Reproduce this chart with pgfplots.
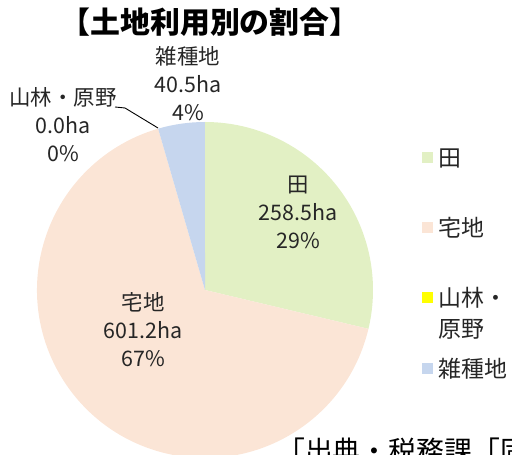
\documentclass[border=0pt]{standalone}
\usepackage{fontspec}
\setmainfont{Noto Sans CJK JP}
\usepackage{pgfplots}
\usepackage{pgfplotstable}
\pgfplotsset{compat=1.18}
\definecolor{cTa}{RGB}{226,240,196}
\definecolor{cTaku}{RGB}{251,229,214}
\definecolor{cSan}{RGB}{255,255,0}
\definecolor{cZatsu}{RGB}{198,214,238}

% land use (ha)
\pgfplotstableread{
name   value
ta     258.5
taku   601.2
sanrin 0.0
zatsu  40.5
}\landuse

\begin{document}
\begin{tikzpicture}
\path[use as bounding box] (0,0) rectangle (512bp,455bp);
\clip (0,0) rectangle (512bp,455bp);
\pgfplotstablegetelem{0}{value}\of\landuse \let\va\pgfplotsretval
\pgfplotstablegetelem{1}{value}\of\landuse \let\vb\pgfplotsretval
\pgfplotstablegetelem{2}{value}\of\landuse \let\vc\pgfplotsretval
\pgfplotstablegetelem{3}{value}\of\landuse \let\vd\pgfplotsretval
\pgfmathsetmacro{\tot}{\va+\vb+\vc+\vd}
\pgfmathsetmacro{\aA}{90-360*(\va/\tot)}
\pgfmathsetmacro{\aB}{\aA-360*(\vb/\tot)}
\pgfmathsetmacro{\aC}{\aB-360*(\vc/\tot)}
\pgfmathsetmacro{\aD}{\aC-360*(\vd/\tot)}
\begin{axis}[
    at={(0,0)}, anchor=south west,
    width=512bp, height=455bp, scale only axis,
    xmin=0, xmax=512, ymin=0, ymax=455,
    hide axis, clip=false,
]
\fill[cTa] (axis cs:205,165) -- ++(90:168bp) arc[start angle=90, end angle=\aA, radius=168bp] -- cycle;
\fill[cTaku] (axis cs:205,165) -- ++(\aA:168bp) arc[start angle=\aA, end angle=\aB, radius=168bp] -- cycle;
\fill[cZatsu] (axis cs:205,165) -- ++(\aC:168bp) arc[start angle=\aC, end angle=\aD, radius=168bp] -- cycle;

\node[font=\fontsize{30}{34}\selectfont\bfseries] at (axis cs:210,433) {【土地利用別の割合】};

\tikzset{lab/.style={align=center, font=\fontsize{21.5}{28}\selectfont, text=black!85}}
\node[lab] at (axis cs:298,243) {田\\258.5ha\\29\%};
\node[lab] at (axis cs:143,125) {宅地\\601.2ha\\67\%};
\node[lab] at (axis cs:188,371) {雑種地\\40.5ha\\4\%};
\node[lab] at (axis cs:63,330) {山林・原野\\0.0ha\\0\%};
\draw[black, line width=0.9pt] (axis cs:115,348) -- (axis cs:125,347) -- (axis cs:158,327);

% legend
\tikzset{lg/.style={anchor=west, inner xsep=0pt, font=\fontsize{23}{28}\selectfont, text=black!85}}
\fill[cTa] (axis cs:422,292) rectangle (axis cs:433,303);
\node[lg] at (axis cs:438,297) {田};
\fill[cTaku] (axis cs:422,222) rectangle (axis cs:433,233);
\node[lg] at (axis cs:438,227) {宅地};
\fill[cSan] (axis cs:422,152) rectangle (axis cs:433,163);
\node[lg] at (axis cs:438,157) {山林・};
\node[lg] at (axis cs:438,126) {原野};
\fill[cZatsu] (axis cs:422,81) rectangle (axis cs:433,92);
\node[lg] at (axis cs:438,86) {雑種地};

\node[anchor=west, inner sep=0pt, font=\fontsize{28}{30}\selectfont] at (axis cs:277,4) {「出典・税務課「固定資産概要調書」」};
\end{axis}
\end{tikzpicture}
\end{document}
